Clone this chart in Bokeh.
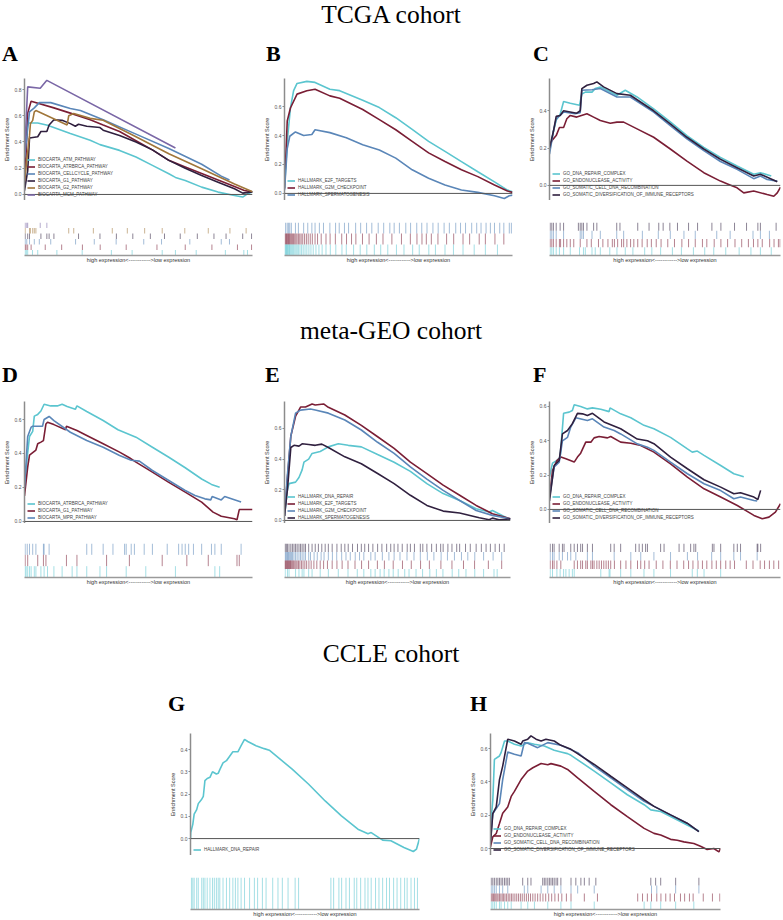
from bokeh.plotting import figure
from bokeh.models import Range1d, Span, Legend, LegendItem, FixedTicker, Div, Spacer, PrintfTickFormatter
from bokeh.layouts import column, row
from bokeh.embed import file_html
from bokeh.resources import INLINE

# ---------------- DATA (x = rank position in %, y = enrichment score) ----------------
# Panel A (TCGA, BIOCARTA)
A_names = ["BIOCARTA_ATM_PATHWAY", "BIOCARTA_ATRBRCA_PATHWAY", "BIOCARTA_CELLCYCLE_PATHWAY",
           "BIOCARTA_G1_PATHWAY", "BIOCARTA_G2_PATHWAY", "BIOCARTA_MCM_PATHWAY"]
A_ATM_x = [0, 0.3, 1.4, 5.8, 10.1, 20.1, 28.8, 33.1, 41.7, 48.9, 56.1, 63.3, 66.2, 70.5, 77.7, 84.9, 92.1, 95.7, 97.8, 100]
A_ATM_y = [0.1, 0.30, 0.545, 0.545, 0.527, 0.464, 0.413, 0.38, 0.336, 0.285, 0.222, 0.158, 0.13, 0.107, 0.056, 0.018, -0.008, -0.02, 0.005, 0.018]
A_ATR_x = [0, 0.7, 1.4, 2.9, 12.9, 20.1, 28.8, 34.5, 41.7, 48.9, 56.1, 63.3, 70.5, 77.7, 84.9, 92.1, 96.4, 100]
A_ATR_y = [0.05, 0.31, 0.62, 0.71, 0.66, 0.62, 0.57, 0.53, 0.48, 0.41, 0.34, 0.26, 0.21, 0.16, 0.11, 0.06, 0.03, 0.02]
A_CC_x = [0, 2.2, 4.3, 6.5, 11.5, 20.1, 24.5, 34.5, 48.9, 63.3, 77.7, 86.3, 89.9]
A_CC_y = [0.28, 0.63, 0.66, 0.70, 0.70, 0.655, 0.64, 0.57, 0.46, 0.35, 0.23, 0.14, 0.11]
A_G1_x = [0, 1.4, 2.2, 5.8, 7.2, 9.8, 10.8, 12.9, 16.5, 20.1, 22.3, 23.7, 27.3, 33.1, 34.5, 41.7, 48.9, 56.1, 63.3, 70.5, 77.7, 84.9, 92.1, 95.7, 100]
A_G1_y = [0.03, 0.18, 0.43, 0.44, 0.48, 0.48, 0.53, 0.57, 0.565, 0.54, 0.52, 0.535, 0.52, 0.51, 0.49, 0.45, 0.40, 0.34, 0.26, 0.20, 0.145, 0.094, 0.043, 0.01, 0.02]
A_G2_x = [0, 2.2, 2.6, 3.6, 4.3, 5.0, 18.7, 19.4, 21.6, 28.8, 34.5, 48.9, 63.3, 77.7, 92.1, 100]
A_G2_y = [0.1, 0.45, 0.54, 0.565, 0.63, 0.64, 0.53, 0.60, 0.617, 0.58, 0.566, 0.44, 0.31, 0.196, 0.08, 0.02]
A_MCM_x = [0, 1.4, 6.9, 9.8, 66.2]
A_MCM_y = [0.3, 0.82, 0.81, 0.87, 0.354]
A_bar_MCM = [0.3, 1.0, 1.4, 6.9, 9.8]
A_bar_G2 = [0.3, 2.2, 2.6, 3.6, 4.3, 5.0, 19.4, 21.6, 30.2, 38.5, 45.1, 52.7, 60.4, 70.3, 80.6, 90.1, 97.2]
A_bar_G1 = [0.3, 1.4, 2.2, 7.2, 9.8, 10.8, 12.9, 23.7, 33.1, 40.3, 47.5, 55.2, 61.4, 68.3, 75.8, 83.1, 88.4, 95.7, 99.6]
A_bar_CC = [0.3, 1.0, 2.2, 4.3, 6.5, 11.5, 22.4, 30.6, 40.2, 52.3, 60.1, 72.5, 86.3, 89.9]
A_bar_ATR = [0.3, 0.7, 1.4, 2.9, 9.1, 16.3, 25.4, 33.2, 44.6, 58.1, 70.5, 82.2, 93.4, 99.6]
A_bar_ATM = [0.3, 0.8, 1.4, 3.5, 5.8, 14.2, 25.3, 38.1, 47.2, 60.4, 66.2, 75.3, 88.1, 96.2, 97.8]

# Panel B (TCGA, HALLMARK)
B_names = ["HALLMARK_E2F_TARGETS", "HALLMARK_G2M_CHECKPOINT", "HALLMARK_SPERMATOGENESIS"]
B_E2F_x = [0, 1.2, 2.6, 4.0, 5.5, 9.8, 13.4, 19.9, 24.2, 34.3, 41.6, 48.8, 56.0, 63.2, 70.4, 77.6, 84.8, 92.1, 97.8, 100]
B_E2F_y = [0.035, 0.36, 0.59, 0.71, 0.76, 0.774, 0.767, 0.72, 0.71, 0.644, 0.593, 0.523, 0.442, 0.36, 0.29, 0.22, 0.15, 0.08, 0.023, 0.012]
B_G2M_x = [0, 1.2, 2.6, 5.5, 9.8, 13.4, 19.9, 24.2, 34.3, 41.6, 48.8, 56.0, 63.2, 70.4, 77.6, 84.8, 92.1, 97.8, 100]
B_G2M_y = [0.035, 0.5, 0.59, 0.686, 0.709, 0.72, 0.674, 0.658, 0.58, 0.51, 0.44, 0.36, 0.28, 0.22, 0.163, 0.116, 0.058, 0.016, 0.007]
B_SP_x = [0, 1.2, 2.3, 4.8, 8.4, 12.0, 13.4, 19.9, 27.1, 34.3, 41.6, 48.8, 56.0, 63.2, 70.4, 77.6, 84.8, 92.1, 96.4, 98.6, 100]
B_SP_y = [0.023, 0.31, 0.395, 0.425, 0.40, 0.407, 0.44, 0.42, 0.384, 0.337, 0.30, 0.244, 0.163, 0.105, 0.058, 0.023, 0.007, -0.016, -0.035, -0.016, -0.012]
B_bar_SP = [0.5, 1.2, 1.8, 2.3, 3.0, 4.8, 6.1, 8.4, 10.2, 12.0, 13.4, 15.3, 17.1, 19.9, 22.4, 24.0, 26.3, 28.1, 31.2, 33.4, 36.0, 38.3, 41.1, 43.5, 46.2, 48.1, 50.4, 53.2, 55.3, 58.0, 60.2, 62.5, 65.1, 67.4, 70.0, 72.3, 75.1, 77.2, 79.4, 82.1, 84.3, 86.2, 88.4, 90.3, 92.1, 94.4, 96.2, 98.6, 99.5]
B_bar_G2M = [0.3, 0.6, 0.9, 1.2, 1.5, 1.8, 2.1, 2.4, 2.8, 3.2, 3.6, 4.0, 4.5, 5.0, 5.5, 6.1, 6.7, 7.3, 8.0, 8.8, 9.6, 10.4, 11.3, 12.2, 13.4, 14.5, 16.1, 18.2, 20.0, 22.3, 25.1, 27.2, 29.4, 31.3, 34.2, 37.1, 40.3, 43.2, 47.1, 51.3, 55.2, 58.1, 60.3, 62.2, 64.4, 67.3, 71.1, 74.2, 78.3, 81.2, 85.4, 88.1, 92.3, 96.2]
B_bar_E2F = [0.2, 0.5, 0.8, 1.0, 1.3, 1.6, 1.9, 2.2, 2.5, 2.9, 3.3, 3.7, 4.1, 4.6, 5.1, 5.6, 6.2, 6.8, 7.5, 8.2, 9.0, 9.8, 10.7, 11.6, 12.6, 13.8, 15.1, 16.5, 18.2, 20.1, 22.5, 25.2, 27.1, 30.3, 33.2, 36.1, 39.4, 42.2, 45.3, 49.1, 52.4, 56.2, 59.1, 63.3, 66.2, 70.4, 74.1, 78.3, 83.2, 88.1, 93.4]

# Panel C (TCGA, GO)
GO_names = ["GO_DNA_REPAIR_COMPLEX", "GO_ENDONUCLEASE_ACTIVITY", "GO_SOMATIC_CELL_DNA_RECOMBINATION",
            "GO_SOMATIC_DIVERSIFICATION_OF_IMMUNE_RECEPTORS"]
C_DNA_x = [0, 1.7, 2.9, 4.6, 6.1, 9.0, 13.0, 14.0, 15.5, 18.4, 19.8, 22.0, 29.2, 32.8, 37.9, 45.1, 52.3, 59.5, 66.8, 74.0, 81.2, 88.4, 91.3, 96.0]
C_DNA_y = [0.186, 0.29, 0.35, 0.38, 0.45, 0.44, 0.43, 0.49, 0.50, 0.50, 0.519, 0.528, 0.483, 0.51, 0.474, 0.41, 0.34, 0.267, 0.204, 0.15, 0.104, 0.06, 0.068, 0.05]
C_END_x = [0, 1.0, 2.9, 4.3, 6.1, 7.5, 9.0, 11.8, 16.2, 19.1, 22.0, 26.3, 29.2, 32.1, 37.9, 45.1, 52.3, 59.5, 66.8, 74.0, 77.6, 81.2, 84.1, 88.4, 94.2, 97.1, 98.6, 100]
C_END_y = [0.2, 0.24, 0.267, 0.31, 0.31, 0.357, 0.375, 0.366, 0.384, 0.366, 0.348, 0.333, 0.339, 0.339, 0.303, 0.258, 0.195, 0.13, 0.068, 0.023, 0.005, -0.013, -0.04, -0.03, -0.049, -0.058, -0.04, -0.01]
C_SOM_x = [0, 1.7, 2.9, 6.1, 11.1, 13.3, 14.0, 18.4, 22.0, 29.2, 35.0, 45.1, 52.3, 59.5, 66.8, 74.0, 81.2, 88.4, 91.3, 94.2, 98.6]
C_SOM_y = [0.168, 0.29, 0.357, 0.393, 0.384, 0.39, 0.51, 0.513, 0.519, 0.474, 0.474, 0.393, 0.32, 0.249, 0.186, 0.128, 0.086, 0.036, 0.05, 0.032, 0.023]
C_DIV_x = [0, 1.7, 2.9, 4.6, 6.1, 11.8, 13.3, 14.0, 16.2, 19.1, 20.5, 23.4, 29.2, 35.0, 45.1, 52.3, 59.5, 66.8, 74.0, 81.2, 88.4, 91.3, 98.6]
C_DIV_y = [0.2, 0.29, 0.37, 0.375, 0.40, 0.387, 0.40, 0.519, 0.537, 0.546, 0.555, 0.528, 0.492, 0.483, 0.40, 0.33, 0.258, 0.195, 0.14, 0.095, 0.05, 0.06, 0.02]
C_bar_DIV = [0.3, 1.0, 1.7, 2.9, 4.6, 6.1, 12.5, 13.3, 14.0, 14.7, 16.2, 19.1, 20.5, 29.1, 30.5, 38.2, 43.1, 47.3, 49.2, 52.1, 55.4, 60.2, 64.1, 70.3, 74.2, 80.1, 85.3, 90.2, 91.3, 98.1]
C_bar_SOM = [0.3, 1.0, 1.7, 2.9, 6.1, 13.3, 14.0, 14.7, 18.4, 22.0, 29.1, 32.1, 40.2, 47.1, 52.3, 58.2, 63.1, 72.4, 78.2, 88.1, 91.3, 95.2]
C_bar_END = [0.3, 1.0, 1.7, 2.9, 4.3, 4.8, 6.1, 7.5, 9.0, 10.5, 13.3, 16.2, 18.1, 21.2, 23.1, 25.3, 27.2, 28.1, 29.5, 31.2, 32.1, 33.5, 35.1, 36.5, 38.2, 40.1, 42.3, 44.1, 46.2, 48.3, 51.2, 54.1, 57.3, 60.2, 63.1, 66.2, 68.1, 71.3, 74.2, 77.1, 80.3, 83.2, 86.1, 88.3, 90.2, 92.1, 95.3, 97.2, 99.1, 99.8]
C_bar_DNA = [0.3, 1.0, 1.7, 2.9, 4.3, 6.1, 9.0, 13.0, 14.7, 15.5, 18.4, 19.8, 22.0, 26.1, 29.2, 32.8, 36.1, 41.2, 44.3, 48.1, 53.2, 57.1, 62.3, 67.2, 71.1, 76.3, 82.1, 87.2, 91.3, 96.0]

# Panel D (meta-GEO, BIOCARTA)
D_names = ["BIOCARTA_ATRBRCA_PATHWAY", "BIOCARTA_G1_PATHWAY", "BIOCARTA_MPR_PATHWAY"]
D_ATR_x = [0, 1.2, 2.2, 3.6, 4.3, 5.8, 7.2, 8.6, 11.5, 14.4, 16.5, 18.7, 22.3, 23.0, 27.3, 34.5, 41.0, 48.9, 56.1, 63.3, 70.5, 77.7, 82.0, 85.6]
D_ATR_y = [0.18, 0.38, 0.5, 0.53, 0.62, 0.63, 0.65, 0.69, 0.68, 0.68, 0.69, 0.676, 0.66, 0.68, 0.647, 0.594, 0.54, 0.496, 0.437, 0.378, 0.316, 0.25, 0.218, 0.202]
D_G1_x = [0, 1.4, 2.2, 5.0, 5.8, 7.2, 8.3, 9.4, 10.1, 12.9, 18.0, 18.4, 23.0, 27.3, 34.5, 41.7, 46.0, 48.9, 56.1, 63.3, 70.5, 77.7, 82.7, 86.3, 92.1, 93.2, 94.2, 100]
D_G1_y = [0.15, 0.32, 0.39, 0.42, 0.457, 0.467, 0.476, 0.574, 0.584, 0.57, 0.54, 0.56, 0.535, 0.506, 0.457, 0.408, 0.375, 0.349, 0.29, 0.23, 0.173, 0.114, 0.055, 0.031, 0.016, 0.01, 0.07, 0.07]
D_MPR_x = [0, 1.4, 2.9, 3.6, 7.9, 8.6, 10.8, 12.9, 20.1, 27.3, 34.5, 41.7, 46.8, 50.4, 56.1, 63.3, 70.5, 74.8, 79.1, 81.7, 82.3, 86.3, 87.8, 95.0]
D_MPR_y = [0.2, 0.5, 0.555, 0.56, 0.56, 0.6, 0.618, 0.594, 0.525, 0.476, 0.437, 0.388, 0.36, 0.355, 0.30, 0.241, 0.182, 0.153, 0.133, 0.127, 0.147, 0.127, 0.147, 0.114]
D_bar_MPR = [0.3, 1.2, 2.2, 3.6, 5.0, 8.3, 8.6, 10.8, 27.3, 29.5, 34.5, 38.8, 43.9, 44.6, 46.8, 48.2, 52.5, 56.1, 62.6, 67.6, 69.1, 70.5, 72.0, 74.1, 77.7, 82.0, 83.5, 86.3, 95.0]
D_bar_G1 = [0.3, 1.4, 5.8, 8.3, 9.4, 18.4, 23.0, 36.0, 46.0, 60.4, 71.2, 80.6, 93.2, 94.2]
D_bar_ATR = [0.3, 0.7, 1.4, 2.2, 2.9, 4.3, 5.0, 7.2, 8.6, 10.1, 12.9, 16.5, 20.9, 23.0, 27.3, 33.1, 36.0, 44.6, 53.2, 66.2, 83.5, 85.6]

# Panel E (meta-GEO, HALLMARK)
E_names = ["HALLMARK_DNA_REPAIR", "HALLMARK_E2F_TARGETS", "HALLMARK_G2M_CHECKPOINT", "HALLMARK_SPERMATOGENESIS"]
E_DNA_x = [0, 1.3, 2.0, 4.9, 6.4, 7.8, 8.6, 10.7, 12.2, 15.8, 19.4, 23.8, 28.2, 34.0, 41.2, 48.5, 55.7, 63.0, 70.2, 77.5, 84.8, 90.6, 92.0, 99.3]
E_DNA_y = [0.03, 0.2, 0.24, 0.25, 0.28, 0.33, 0.38, 0.40, 0.437, 0.45, 0.48, 0.50, 0.49, 0.48, 0.43, 0.38, 0.32, 0.24, 0.175, 0.13, 0.076, 0.055, 0.065, 0.01]
E_E2F_x = [0, 1.3, 2.8, 4.9, 7.1, 9.3, 12.2, 13.6, 17.3, 19.4, 26.7, 34.0, 41.2, 48.5, 55.7, 63.0, 70.2, 77.5, 84.8, 92.0, 100]
E_E2F_y = [0.03, 0.28, 0.55, 0.68, 0.74, 0.74, 0.76, 0.753, 0.76, 0.738, 0.688, 0.62, 0.546, 0.47, 0.38, 0.306, 0.23, 0.164, 0.098, 0.044, 0.011]
E_G2M_x = [0, 1.3, 2.8, 4.9, 7.1, 11.5, 13.6, 19.4, 26.7, 34.0, 41.2, 48.5, 55.7, 63.0, 70.2, 77.5, 84.8, 92.0, 100]
E_G2M_y = [0.03, 0.3, 0.55, 0.70, 0.72, 0.727, 0.72, 0.70, 0.655, 0.59, 0.51, 0.437, 0.35, 0.27, 0.196, 0.13, 0.065, 0.033, 0.01]
E_SP_x = [0, 1.3, 2.8, 4.2, 6.4, 7.8, 10.7, 13.6, 16.5, 19.4, 26.7, 34.0, 41.2, 48.5, 55.7, 63.0, 70.2, 77.5, 84.8, 86.2, 90.6, 92.0, 94.9, 100]
E_SP_y = [0.03, 0.2, 0.476, 0.49, 0.485, 0.50, 0.495, 0.49, 0.498, 0.476, 0.415, 0.37, 0.306, 0.24, 0.164, 0.098, 0.061, 0.048, 0.022, 0.017, 0.004, 0.015, 0.004, 0.01]
E_bar_SP = [0.3, 0.8, 1.3, 2.0, 2.8, 3.5, 4.2, 4.9, 5.6, 6.4, 7.1, 7.8, 8.6, 9.3, 10.7, 12.2, 13.6, 15.0, 16.5, 18.0, 19.4, 21.1, 23.2, 25.1, 26.7, 28.2, 30.1, 32.3, 34.0, 35.5, 37.2, 39.1, 41.2, 43.1, 45.2, 47.0, 48.5, 50.2, 52.1, 54.3, 55.7, 57.5, 60.1, 61.2, 63.0, 65.1, 67.2, 69.1, 70.2, 72.3, 74.1, 76.2, 77.5, 80.1, 82.2, 84.8, 87.1, 89.2, 91.1, 93.2, 95.1, 97.2]
E_bar_G2M = [0.3, 0.6, 1.0, 1.3, 1.7, 2.0, 2.4, 2.8, 3.2, 3.6, 4.2, 4.9, 5.6, 6.4, 7.1, 7.8, 8.6, 9.3, 10.7, 11.5, 13.1, 14.5, 16.2, 17.5, 19.4, 21.2, 23.1, 25.3, 27.2, 29.1, 31.3, 33.2, 35.1, 38.2, 40.1, 43.3, 46.2, 48.5, 51.1, 54.2, 57.3, 60.1, 63.2, 66.1, 69.3, 72.1, 75.2, 78.3, 81.1, 84.2, 88.1, 92.3, 96.1]
E_bar_E2F = [0.2, 0.5, 0.8, 1.1, 1.4, 1.7, 2.0, 2.3, 2.6, 2.9, 3.3, 3.7, 4.1, 4.6, 5.1, 5.6, 6.2, 6.8, 7.5, 8.2, 9.0, 9.8, 10.8, 11.8, 13.0, 14.3, 15.8, 17.3, 19.0, 21.1, 23.2, 25.5, 28.1, 31.2, 34.1, 37.2, 41.1, 44.2, 48.1, 52.2, 56.1, 60.2, 64.1, 69.2, 74.1, 79.2, 84.1, 90.2, 96.1]
E_bar_DNA = [0.3, 1.3, 2.0, 4.9, 6.4, 7.8, 8.6, 10.7, 12.2, 15.8, 19.4, 23.8, 28.1, 32.2, 35.1, 38.2, 40.1, 42.3, 44.1, 46.2, 48.1, 50.3, 53.2, 55.1, 58.2, 61.1, 64.3, 67.2, 70.1, 74.2, 77.1, 80.3, 84.2, 88.1, 92.7, 94.1]

# Panel F (meta-GEO, GO)
F_DNA_x = [0, 1.3, 3.2, 4.6, 6.1, 8.5, 9.9, 10.7, 13.5, 16.4, 18.6, 22.2, 25.8, 26.2, 30.8, 35.2, 40.9, 45.2, 52.4, 59.7, 61.8, 64.0, 66.9, 74.1, 79.8, 84.1]
F_DNA_y = [0.19, 0.27, 0.285, 0.305, 0.56, 0.567, 0.577, 0.61, 0.60, 0.586, 0.592, 0.584, 0.57, 0.592, 0.557, 0.534, 0.49, 0.47, 0.42, 0.353, 0.334, 0.34, 0.315, 0.256, 0.208, 0.19]
F_END_x = [0, 1.3, 3.2, 4.9, 7.1, 10.7, 12.1, 13.5, 15.7, 17.9, 19.3, 21.5, 25.1, 26.5, 30.8, 35.2, 39.5, 45.2, 52.4, 59.7, 66.9, 74.1, 81.3, 88.5, 92.1, 95.0, 97.8, 100]
F_END_y = [0.07, 0.227, 0.285, 0.305, 0.295, 0.276, 0.305, 0.328, 0.392, 0.392, 0.417, 0.425, 0.417, 0.425, 0.392, 0.386, 0.373, 0.334, 0.266, 0.188, 0.12, 0.072, 0.023, -0.035, -0.054, -0.045, -0.016, 0.033]
F_SOM_x = [0, 2.0, 4.2, 5.6, 7.8, 9.2, 11.4, 16.4, 18.6, 23.6, 28.0, 30.8, 38.0, 42.4, 45.2, 52.4, 59.7, 66.9, 74.1, 79.8, 82.7, 88.5, 89.9]
F_SOM_y = [0.07, 0.247, 0.276, 0.40, 0.42, 0.48, 0.534, 0.518, 0.528, 0.48, 0.46, 0.44, 0.382, 0.363, 0.344, 0.276, 0.208, 0.15, 0.11, 0.062, 0.072, 0.052, 0.049]
F_DIV_x = [0, 2.0, 4.2, 5.6, 7.8, 9.9, 12.1, 14.3, 16.4, 18.6, 23.6, 30.8, 38.0, 42.4, 45.2, 52.4, 59.7, 66.9, 74.1, 79.8, 82.7, 88.5, 90.2, 91.4]
F_DIV_y = [0.05, 0.256, 0.285, 0.44, 0.46, 0.5, 0.56, 0.557, 0.547, 0.56, 0.51, 0.47, 0.41, 0.40, 0.383, 0.305, 0.237, 0.173, 0.13, 0.091, 0.097, 0.072, 0.058, 0.111]
F_bar_DIV = [0.3, 1.3, 2.0, 4.2, 5.6, 6.3, 9.2, 10.7, 12.1, 13.5, 14.3, 16.4, 18.6, 26.5, 28.0, 30.8, 37.3, 38.8, 40.2, 41.6, 42.4, 48.1, 49.6, 56.1, 58.2, 61.1, 62.5, 63.3, 70.5, 71.2, 74.1, 79.8, 81.3, 82.7, 89.9, 90.2, 91.4]
F_bar_SOM = [0.3, 1.3, 2.0, 4.2, 5.6, 7.8, 9.2, 11.4, 16.4, 18.6, 28.0, 35.2, 39.5, 45.2, 52.4, 59.7, 64.1, 70.2, 74.1, 79.8, 82.7, 89.9]
F_bar_END = [0.3, 1.3, 2.0, 3.2, 4.9, 10.7, 12.1, 13.5, 14.3, 15.7, 16.4, 17.9, 18.6, 19.3, 20.5, 21.5, 22.5, 23.5, 24.5, 25.5, 26.5, 28.1, 30.8, 33.1, 35.2, 38.1, 39.5, 41.2, 43.1, 46.2, 49.1, 52.3, 55.2, 58.1, 60.2, 62.1, 64.3, 66.2, 68.1, 70.3, 72.2, 74.1, 76.3, 78.2, 80.1, 85.2, 88.1, 91.2, 93.1, 95.2, 97.1, 99.2]
F_bar_DNA = [0.3, 1.3, 3.2, 4.6, 6.1, 7.1, 8.5, 9.9, 10.7, 22.2, 25.8, 26.2, 30.8, 35.2, 40.9, 45.2, 52.4, 61.8, 64.0, 66.9, 74.1]

# Panel G (CCLE, HALLMARK)
G_names = ["HALLMARK_DNA_REPAIR"]
G_DNA_x = [0, 0.1, 1.0, 1.6, 2.7, 3.4, 4.9, 5.6, 6.3, 7.3, 8.5, 9.6, 11.3, 12.1, 12.8, 14.2, 15.7, 17.1, 18.5, 20.7, 22.1, 23.6, 25.0, 28.6, 32.2, 34.4, 44.4, 51.6, 58.8, 65.9, 73.1, 77.5, 78.9, 83.9, 87.5, 93.2, 97.3, 98.7, 100]
G_DNA_y = [0.0, 0.027, 0.064, 0.11, 0.13, 0.157, 0.177, 0.19, 0.26, 0.27, 0.275, 0.30, 0.29, 0.293, 0.31, 0.34, 0.35, 0.37, 0.39, 0.39, 0.417, 0.446, 0.436, 0.417, 0.404, 0.397, 0.312, 0.244, 0.169, 0.102, 0.042, 0.022, 0.027, -0.007, -0.01, -0.04, -0.058, -0.047, 0.0]
G_bar_DNA = [0.4, 1.0, 1.6, 2.7, 3.4, 4.9, 5.6, 6.3, 7.3, 8.5, 9.6, 10.4, 11.3, 12.1, 12.8, 14.2, 15.7, 17.1, 18.5, 19.6, 20.7, 22.1, 23.6, 25.8, 27.9, 29.3, 31.4, 33.0, 35.9, 38.2, 40.1, 42.6, 45.7, 47.2, 61.3, 62.5, 64.8, 66.0, 67.9, 69.4, 71.5, 72.6, 74.3, 76.2, 77.5, 78.9, 80.8, 82.3, 83.9, 85.6, 86.9, 88.7, 90.2, 91.8, 93.5, 94.6, 96.3, 97.8, 99.1]

# Panel H (CCLE, GO)
H_DNA_x = [0, 1.0, 1.7, 3.9, 4.6, 6.1, 7.5, 10.4, 13.3, 16.2, 19.1, 23.4, 27.7, 30.6, 33.5, 35.0, 45.1, 52.3, 59.5, 66.8, 69.7, 74.0, 79.8, 85.5, 90.6]
H_DNA_y = [0.13, 0.29, 0.535, 0.556, 0.576, 0.646, 0.646, 0.626, 0.616, 0.636, 0.626, 0.616, 0.59, 0.58, 0.57, 0.56, 0.465, 0.394, 0.323, 0.263, 0.232, 0.222, 0.182, 0.141, 0.105]
H_END_x = [0, 1.0, 2.5, 3.9, 5.3, 7.5, 9.0, 10.4, 13.3, 16.2, 18.4, 22.0, 24.9, 26.3, 30.6, 33.5, 37.9, 45.1, 52.3, 59.5, 66.8, 71.1, 74.0, 78.3, 81.2, 84.1, 88.4, 91.3, 94.2, 97.1, 99.3, 100]
H_END_y = [0.01, 0.07, 0.09, 0.15, 0.212, 0.25, 0.313, 0.343, 0.414, 0.465, 0.485, 0.511, 0.503, 0.51, 0.495, 0.475, 0.424, 0.343, 0.263, 0.192, 0.121, 0.091, 0.081, 0.055, 0.05, 0.04, 0.03, 0.014, -0.006, 0.0, -0.02, 0.0]
H_SOM_x = [0, 1.0, 2.5, 3.9, 5.3, 7.5, 10.4, 13.3, 14.7, 16.2, 20.5, 24.9, 30.6, 37.9, 45.1, 52.3, 59.5, 66.8, 71.1, 78.3, 85.5, 90.6]
H_SOM_y = [0.05, 0.21, 0.24, 0.27, 0.414, 0.58, 0.566, 0.556, 0.636, 0.632, 0.606, 0.636, 0.62, 0.576, 0.495, 0.424, 0.354, 0.283, 0.253, 0.202, 0.152, 0.101]
H_DIV_x = [0, 1.0, 2.5, 3.9, 5.3, 7.5, 10.4, 13.3, 14.0, 16.2, 17.6, 19.8, 22.0, 24.1, 27.7, 30.6, 35.0, 45.1, 52.3, 59.5, 66.8, 71.1, 78.3, 85.5, 90.6]
H_DIV_y = [0.03, 0.21, 0.25, 0.414, 0.495, 0.657, 0.646, 0.626, 0.646, 0.657, 0.677, 0.657, 0.646, 0.657, 0.646, 0.62, 0.596, 0.505, 0.434, 0.364, 0.293, 0.253, 0.202, 0.152, 0.101]
H_bar_DIV = [0.3, 1.0, 1.7, 2.5, 3.2, 3.9, 4.6, 5.3, 6.1, 6.8, 7.5, 8.2, 14.0, 16.2, 17.6, 22.7, 23.4, 24.1, 24.9, 25.6, 26.3, 27.0, 27.7, 28.5, 29.2, 30.6, 35.0, 37.1, 39.3, 40.8, 42.9, 45.8, 69.7, 71.8, 74.0, 80.5, 90.6]
H_bar_SOM = [0.3, 1.0, 1.7, 2.5, 3.9, 5.3, 7.5, 14.7, 16.2, 22.0, 24.9, 27.7, 30.6, 35.0, 37.9, 45.1, 70.0, 72.3, 80.5, 90.6]
H_bar_END = [0.3, 0.8, 1.3, 1.8, 2.3, 2.8, 3.3, 3.9, 4.5, 5.1, 5.7, 6.3, 7.0, 7.7, 8.4, 9.1, 9.8, 10.6, 11.4, 12.2, 13.0, 13.8, 14.7, 15.6, 16.5, 17.4, 18.4, 19.4, 20.5, 21.6, 22.8, 24.0, 25.3, 26.6, 28.0, 29.5, 31.0, 33.0, 35.0, 40.8, 46.5, 64.0, 66.1, 68.2, 70.0, 72.3, 74.1, 76.2, 78.1, 80.0, 82.6, 84.4, 86.5, 88.1, 92.5, 96.5, 99.7]
H_bar_DNA = [0.3, 1.0, 1.7, 2.5, 3.9, 4.6, 6.1, 7.5, 9.0, 13.3, 16.2, 19.1, 24.9, 30.6, 35.0, 45.1, 66.8, 69.7, 74.0, 80.5, 88.4]

# ---------------- STYLE ----------------
CYAN = "#5BC5CF"
RED = "#7A1E35"
STEEL = "#5A86B8"
NAVY = "#30203F"
OCHRE = "#A0763A"
PURPLE = "#7A67A6"
SANS = "Liberation Sans"
SERIF = "Liberation Serif"
XLABEL = "high expression<------------>low expression"
PAGE_W = 782


def curve_fig(width, left, right, yr, ticks, xs, ys, names, colors, frame_h=122):
    p = figure(width=width, height=frame_h + 4, x_range=Range1d(0, 100), y_range=Range1d(*yr),
               x_axis_type=None, toolbar_location=None, output_backend="svg", title=None,
               min_border_left=left, min_border_right=right, min_border_top=4, min_border_bottom=0)
    p.grid.visible = False
    p.outline_line_color = None
    p.add_layout(Span(location=0, dimension="width", line_color="#555555", line_width=1))
    rs = []
    for x, y, c in zip(xs, ys, colors):
        rs.append(p.line(x, y, line_color=c, line_width=1.6))
    ax = p.yaxis[0]
    ax.ticker = FixedTicker(ticks=ticks)
    ax.formatter = PrintfTickFormatter(format="%.1f")
    ax.axis_label = "Enrichment Score"
    ax.axis_label_text_font = SANS
    ax.axis_label_text_font_size = "5.5px"
    ax.axis_label_text_font_style = "normal"
    ax.axis_label_text_color = "#333333"
    ax.axis_label_standoff = 2
    ax.major_label_text_font = SANS
    ax.major_label_text_font_size = "5px"
    ax.major_label_text_color = "#555555"
    ax.major_label_standoff = 1
    ax.major_tick_out = 2
    ax.major_tick_in = 0
    ax.minor_tick_out = 0
    ax.minor_tick_in = 0
    ax.major_tick_line_color = "#8c8c8c"
    ax.axis_line_color = "#8c8c8c"
    ax.axis_line_width = 1.5
    items = [LegendItem(label=n, renderers=[r]) for n, r in zip(names, rs)]
    leg = Legend(items=items, location=(3, 3), label_text_font=SANS, label_text_font_size="4.5px",
                 label_text_color="#444444", glyph_width=8, glyph_height=5, label_height=5,
                 label_standoff=3, spacing=2, padding=0, margin=0,
                 background_fill_alpha=0, border_line_alpha=0)
    p.add_layout(leg)
    return p


def barcode_fig(width, left, right, rows, colors, frame_h, top, bottom):
    n = len(rows)
    p = figure(width=width, height=top + frame_h + bottom, x_range=Range1d(0, 100), y_range=Range1d(0, n),
               y_axis_type=None, toolbar_location=None, output_backend="svg", title=None,
               min_border_left=left, min_border_right=right, min_border_top=top, min_border_bottom=bottom)
    p.grid.visible = False
    p.outline_line_color = None
    for i, (pos, c) in enumerate(zip(rows, colors)):
        y0 = n - i - 1
        p.segment(x0=pos, x1=pos, y0=[y0] * len(pos), y1=[y0 + 1] * len(pos),
                  line_color=c, line_alpha=0.55, line_width=1)
    ax = p.xaxis[0]
    ax.ticker = FixedTicker(ticks=[])
    ax.axis_label = XLABEL
    ax.axis_label_text_font = SANS
    ax.axis_label_text_font_size = "5.5px"
    ax.axis_label_text_font_style = "normal"
    ax.axis_label_text_color = "#333333"
    ax.axis_label_standoff = 1
    ax.major_tick_out = 0
    ax.minor_tick_out = 0
    ax.axis_line_color = "#9a9a9a"
    ax.axis_line_width = 1.5
    return p


def title_div(text, h):
    return Div(text=('<div style="font-family:\'%s\';font-size:25.5px;line-height:29px;'
                     'text-align:center;width:%dpx;margin:0;padding:0;color:#000">%s</div>') % (SERIF, PAGE_W, text),
               width=PAGE_W, height=h, margin=0)


def letter_div(letter, width, h, pad):
    return Div(text=('<div style="font-family:\'%s\';font-size:22px;line-height:22px;font-weight:bold;'
                     'margin:0;padding:0 0 0 %dpx;color:#000">%s</div>') % (SERIF, pad, letter),
               width=width, height=h, margin=0)


def panel(letter, pad, width, left, right, lh, yr, ticks, xs, ys, names, colors, bars, bar_colors,
          bar_h=34, bar_top=22, bar_bottom=10):
    return column(letter_div(letter, width, lh, pad),
                  curve_fig(width, left, right, yr, ticks, xs, ys, names, colors),
                  barcode_fig(width, left, right, bars, bar_colors, bar_h, bar_top, bar_bottom),
                  spacing=0)


T5 = [0.0, 0.2, 0.4, 0.6, 0.8]
T4 = [0.0, 0.2, 0.4, 0.6]
T3 = [0.0, 0.2, 0.4]
TG = [0.0, 0.1, 0.2, 0.3, 0.4]
C4 = [CYAN, RED, STEEL, NAVY]

# Row 1
pA = panel("A", 2, 260, 20, 8, 31, (-0.046, 0.884), T5,
           [A_ATM_x, A_ATR_x, A_CC_x, A_G1_x, A_G2_x, A_MCM_x],
           [A_ATM_y, A_ATR_y, A_CC_y, A_G1_y, A_G2_y, A_MCM_y],
           A_names, [CYAN, RED, STEEL, NAVY, OCHRE, PURPLE],
           [A_bar_MCM, A_bar_G2, A_bar_G1, A_bar_CC, A_bar_ATR, A_bar_ATM],
           [PURPLE, OCHRE, NAVY, STEEL, RED, CYAN], 33, 22, 10)
pB = panel("B", 6, 260, 21, 8, 31, (-0.049, 0.794), T4,
           [B_E2F_x, B_G2M_x, B_SP_x], [B_E2F_y, B_G2M_y, B_SP_y],
           B_names, [CYAN, RED, STEEL],
           [B_bar_SP, B_bar_G2M, B_bar_E2F], [STEEL, RED, CYAN], 33, 22, 10)
pC = panel("C", 13, 262, 29, 2, 31, (-0.081, 0.573), T3,
           [C_DNA_x, C_END_x, C_SOM_x, C_DIV_x], [C_DNA_y, C_END_y, C_SOM_y, C_DIV_y],
           GO_names, C4,
           [C_bar_DIV, C_bar_SOM, C_bar_END, C_bar_DNA], [NAVY, STEEL, RED, CYAN], 33, 22, 10)

# Row 2
pD = panel("D", 2, 260, 20, 8, 33, (-0.012, 0.706), T4,
           [D_ATR_x, D_G1_x, D_MPR_x], [D_ATR_y, D_G1_y, D_MPR_y],
           D_names, [CYAN, RED, STEEL],
           [D_bar_MPR, D_bar_G1, D_bar_ATR], [STEEL, RED, CYAN], 34, 20, 10)
pE = panel("E", 5, 260, 22, 10, 33, (-0.02, 0.776), T4,
           [E_DNA_x, E_E2F_x, E_G2M_x, E_SP_x], [E_DNA_y, E_E2F_y, E_G2M_y, E_SP_y],
           E_names, C4,
           [E_bar_SP, E_bar_G2M, E_bar_E2F, E_bar_DNA], [NAVY, STEEL, RED, CYAN], 34, 20, 10)
pF = panel("F", 13, 262, 29, 2, 33, (-0.082, 0.629), T4,
           [F_DNA_x, F_END_x, F_SOM_x, F_DIV_x], [F_DNA_y, F_END_y, F_SOM_y, F_DIV_y],
           GO_names, C4,
           [F_bar_DIV, F_bar_SOM, F_bar_END, F_bar_DNA], [NAVY, STEEL, RED, CYAN], 34, 20, 10)

# Row 3
pG = panel("G", 2, 300, 21, 47, 36, (-0.076, 0.472), TG,
           [G_DNA_x], [G_DNA_y], G_names, [CYAN], [G_bar_DNA], [CYAN], 34, 22, 8)
pH = panel("H", 4, 316, 23, 62, 36, (-0.042, 0.691), T4,
           [H_DNA_x, H_END_x, H_SOM_x, H_DIV_x], [H_DNA_y, H_END_y, H_SOM_y, H_DIV_y],
           GO_names, C4,
           [H_bar_DIV, H_bar_SOM, H_bar_END, H_bar_DNA], [NAVY, STEEL, RED, CYAN], 34, 22, 8)

layout = column(
    title_div("TCGA cohort", 43),
    row(pA, pB, pC, spacing=0),
    Spacer(width=PAGE_W, height=51),
    title_div("meta-GEO cohort", 48),
    row(pD, pE, pF, spacing=0),
    Spacer(width=PAGE_W, height=52),
    title_div("CCLE cohort", 54),
    row(Spacer(width=166, height=10), pG, pH, spacing=0),
    spacing=0,
)

with open("out.html", "w") as f:
    f.write(file_html(layout, INLINE))
